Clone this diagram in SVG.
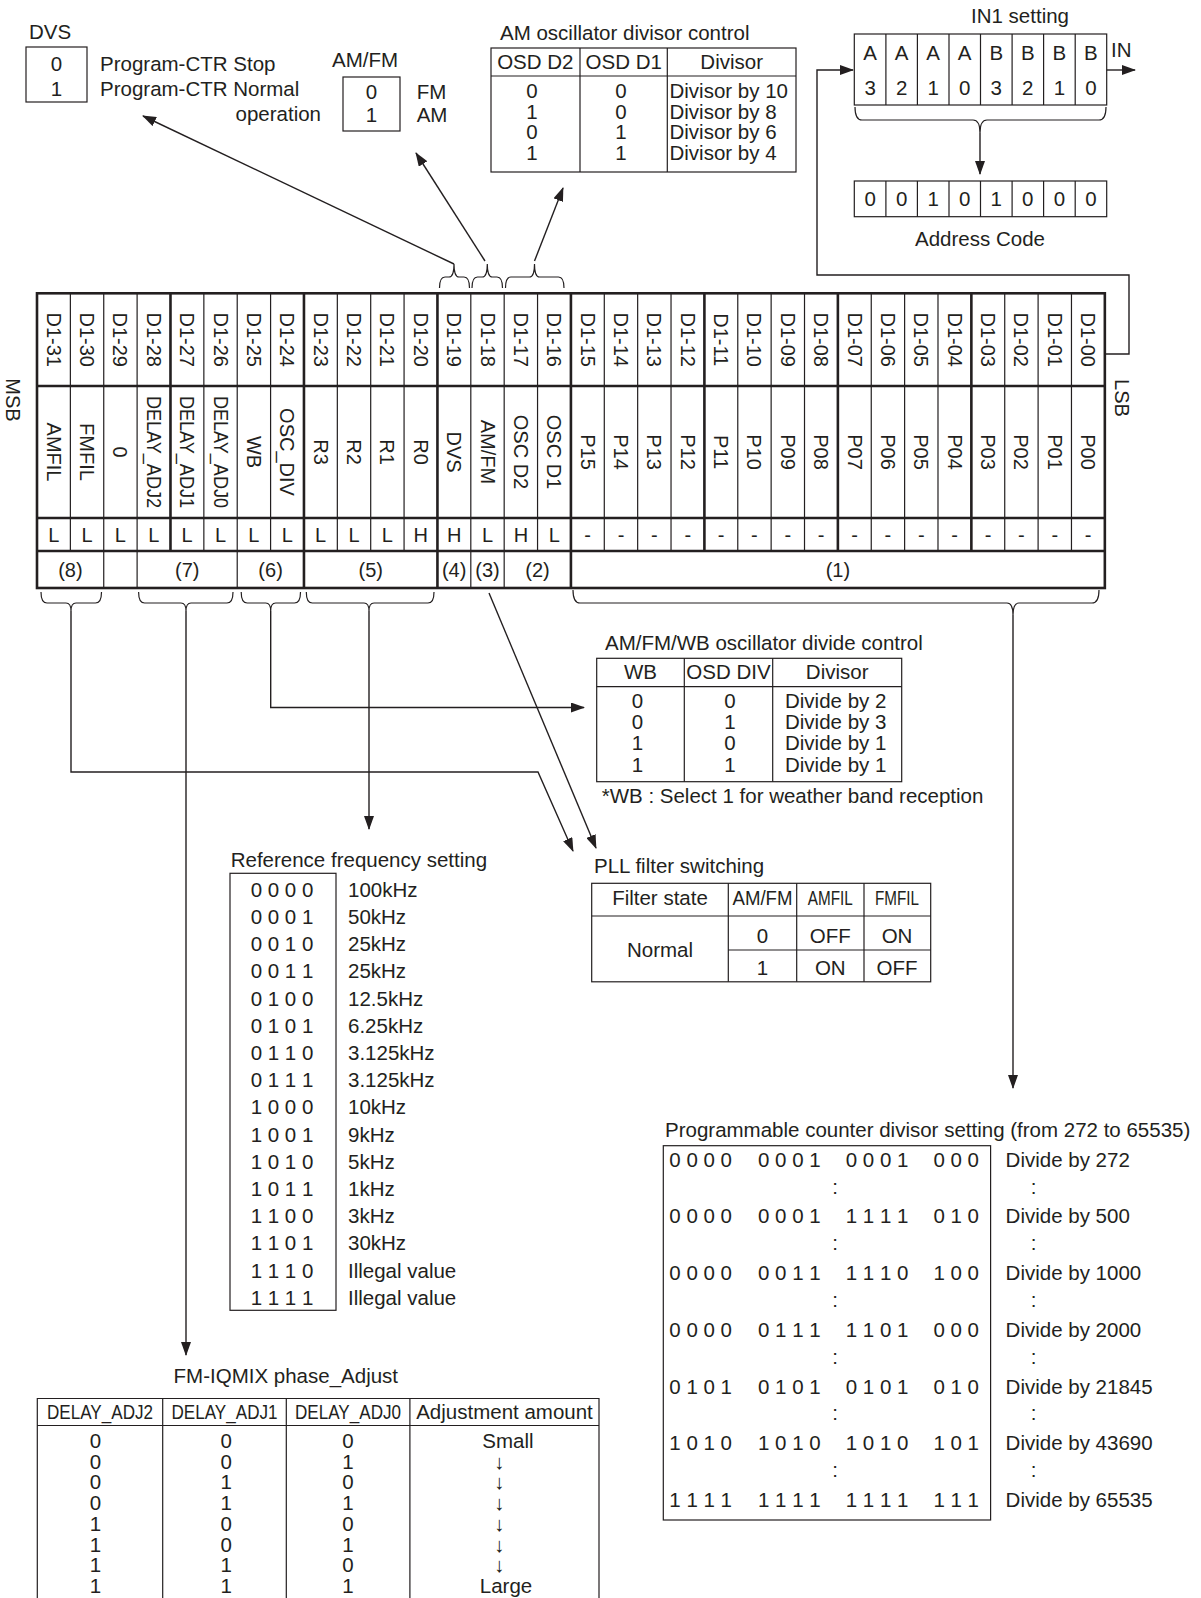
<svg xmlns="http://www.w3.org/2000/svg" width="1201" height="1598" viewBox="0 0 1201 1598">
<defs>
<style>
text { font-family: "Liberation Sans", Arial, sans-serif; font-size: 20.5px; fill: #231f20; }
.m { text-anchor: middle; }
.e { text-anchor: end; }
.s { font-size: 20px; }
.l { stroke: #231f20; stroke-width: 1.2; fill: none; }
.k { stroke: #231f20; stroke-width: 2.6; fill: none; }
.a { stroke: #231f20; stroke-width: 1.4; fill: none; marker-end: url(#ah); }
.b { stroke: #231f20; stroke-width: 1.2; fill: none; }
</style>
<marker id="ah" viewBox="0 0 14 10" refX="13" refY="5" markerWidth="14" markerHeight="10" markerUnits="userSpaceOnUse" orient="auto"><path d="M0,0 L14,5 L0,10 z" fill="#231f20"/></marker>
</defs>
<rect width="1201" height="1598" fill="#fff"/>

<g id="dvs">
<text x="29" y="39">DVS</text>
<rect class="l" x="26" y="47" width="61" height="55"/>
<text class="m" x="56.5" y="71">0</text>
<text class="m" x="56.5" y="96">1</text>
<text x="100" y="71">Program-CTR Stop</text>
<text x="100" y="96">Program-CTR Normal</text>
<text class="e" x="321" y="121">operation</text>
</g>

<g id="amfm">
<text x="332" y="67">AM/FM</text>
<rect class="l" x="343" y="77" width="57" height="54"/>
<text class="m" x="371.5" y="99">0</text>
<text class="m" x="371.5" y="122">1</text>
<text x="416.7" y="99">FM</text>
<text x="416.7" y="122">AM</text>
</g>

<g id="am-osc">
<text x="500" y="40">AM oscillator divisor control</text>
<rect class="l" x="491" y="48" width="305" height="124"/>
<path class="l" d="M491,76 H796 M580,48 V172 M667.3,48 V172"/>
<text class="m" x="535.3" y="69">OSD D2</text>
<text class="m" x="623.7" y="69">OSD D1</text>
<text class="m" x="731.7" y="69">Divisor</text>
<text class="m"><tspan x="532" y="97.7">0</tspan><tspan x="532" y="118.5">1</tspan><tspan x="532" y="139.3">0</tspan><tspan x="532" y="160.3">1</tspan></text>
<text class="m"><tspan x="621" y="97.7">0</tspan><tspan x="621" y="118.5">0</tspan><tspan x="621" y="139.3">1</tspan><tspan x="621" y="160.3">1</tspan></text>
<text><tspan x="669.5" y="97.7">Divisor by 10</tspan><tspan x="669.5" y="118.5">Divisor by 8</tspan><tspan x="669.5" y="139.3">Divisor by 6</tspan><tspan x="669.5" y="160.3">Divisor by 4</tspan></text>
</g>

<g id="in1">
<text x="971" y="23">IN1 setting</text>
<rect class="l" x="854.3" y="34" width="252.4" height="71"/>
<path class="l" d="M885.9,34 V105 M917.4,34 V105 M949,34 V105 M980.5,34 V105 M1012.1,34 V105 M1043.6,34 V105 M1075.2,34 V105"/>
<text class="m" x="870.1" y="60">A</text><text class="m" x="901.6" y="60">A</text><text class="m" x="933.2" y="60">A</text><text class="m" x="964.7" y="60">A</text>
<text class="m" x="996.3" y="60">B</text><text class="m" x="1027.8" y="60">B</text><text class="m" x="1059.4" y="60">B</text><text class="m" x="1090.9" y="60">B</text>
<text class="m" x="870.1" y="95">3</text><text class="m" x="901.6" y="95">2</text><text class="m" x="933.2" y="95">1</text><text class="m" x="964.7" y="95">0</text>
<text class="m" x="996.3" y="95">3</text><text class="m" x="1027.8" y="95">2</text><text class="m" x="1059.4" y="95">1</text><text class="m" x="1090.9" y="95">0</text>
<text x="1111" y="57">IN</text>
</g>

<g id="address">
<rect class="l" x="854.3" y="181" width="252.4" height="35.7"/>
<path class="l" d="M885.9,181 V216.7 M917.4,181 V216.7 M949,181 V216.7 M980.5,181 V216.7 M1012.1,181 V216.7 M1043.6,181 V216.7 M1075.2,181 V216.7"/>
<text class="m" x="870.1" y="206">0</text><text class="m" x="901.6" y="206">0</text><text class="m" x="933.2" y="206">1</text><text class="m" x="964.7" y="206">0</text>
<text class="m" x="996.3" y="206">1</text><text class="m" x="1027.8" y="206">0</text><text class="m" x="1059.4" y="206">0</text><text class="m" x="1090.9" y="206">0</text>
<text class="m" x="980" y="246">Address Code</text>
</g>

<g id="register">
<text class="s m" transform="translate(13,400) rotate(90)" y="7">MSB</text>
<text class="s m" transform="translate(1122,398) rotate(90)" y="7">LSB</text>
<path class="l" d="M70.37,293.3 V551 M103.74,293.3 V588 M137.11,293.3 V588 M203.85,293.3 V551 M237.22,293.3 V588 M270.59,293.3 V551 M337.33,293.3 V551 M370.7,293.3 V551 M404.07,293.3 V551 M470.81,293.3 V588 M504.18,293.3 V588 M537.55,293.3 V551 M604.29,293.3 V551 M637.66,293.3 V551 M671.03,293.3 V551 M737.77,293.3 V551 M771.14,293.3 V551 M804.51,293.3 V551 M871.25,293.3 V551 M904.62,293.3 V551 M937.99,293.3 V551 M1004.73,293.3 V551 M1038.1,293.3 V551 M1071.47,293.3 V551"/>
<path class="k" d="M170.48,293.3 V551 M303.96,293.3 V588 M437.44,293.3 V588 M570.92,293.3 V588 M704.4,293.3 V551 M837.88,293.3 V551 M971.36,293.3 V551 M37,386 H1104.84 M37,518 H1104.84 M37,551 H1104.84"/>
<rect class="k" x="37" y="293.3" width="1067.84" height="294.7"/>
<g>
<text class="s m" transform="translate(53.69,339.7) rotate(90)" y="7">D1-31</text>
<text class="s m" transform="translate(87.06,339.7) rotate(90)" y="7">D1-30</text>
<text class="s m" transform="translate(120.43,339.7) rotate(90)" y="7">D1-29</text>
<text class="s m" transform="translate(153.8,339.7) rotate(90)" y="7">D1-28</text>
<text class="s m" transform="translate(187.17,339.7) rotate(90)" y="7">D1-27</text>
<text class="s m" transform="translate(220.54,339.7) rotate(90)" y="7">D1-26</text>
<text class="s m" transform="translate(253.9,339.7) rotate(90)" y="7">D1-25</text>
<text class="s m" transform="translate(287.28,339.7) rotate(90)" y="7">D1-24</text>
<text class="s m" transform="translate(320.65,339.7) rotate(90)" y="7">D1-23</text>
<text class="s m" transform="translate(354.02,339.7) rotate(90)" y="7">D1-22</text>
<text class="s m" transform="translate(387.39,339.7) rotate(90)" y="7">D1-21</text>
<text class="s m" transform="translate(420.76,339.7) rotate(90)" y="7">D1-20</text>
<text class="s m" transform="translate(454.13,339.7) rotate(90)" y="7">D1-19</text>
<text class="s m" transform="translate(487.5,339.7) rotate(90)" y="7">D1-18</text>
<text class="s m" transform="translate(520.87,339.7) rotate(90)" y="7">D1-17</text>
<text class="s m" transform="translate(554.24,339.7) rotate(90)" y="7">D1-16</text>
<text class="s m" transform="translate(587.6,339.7) rotate(90)" y="7">D1-15</text>
<text class="s m" transform="translate(620.98,339.7) rotate(90)" y="7">D1-14</text>
<text class="s m" transform="translate(654.35,339.7) rotate(90)" y="7">D1-13</text>
<text class="s m" transform="translate(687.72,339.7) rotate(90)" y="7">D1-12</text>
<text class="s m" transform="translate(721.09,339.7) rotate(90)" y="7">D1-11</text>
<text class="s m" transform="translate(754.46,339.7) rotate(90)" y="7">D1-10</text>
<text class="s m" transform="translate(787.83,339.7) rotate(90)" y="7">D1-09</text>
<text class="s m" transform="translate(821.2,339.7) rotate(90)" y="7">D1-08</text>
<text class="s m" transform="translate(854.57,339.7) rotate(90)" y="7">D1-07</text>
<text class="s m" transform="translate(887.94,339.7) rotate(90)" y="7">D1-06</text>
<text class="s m" transform="translate(921.31,339.7) rotate(90)" y="7">D1-05</text>
<text class="s m" transform="translate(954.68,339.7) rotate(90)" y="7">D1-04</text>
<text class="s m" transform="translate(988.05,339.7) rotate(90)" y="7">D1-03</text>
<text class="s m" transform="translate(1021.42,339.7) rotate(90)" y="7">D1-02</text>
<text class="s m" transform="translate(1054.79,339.7) rotate(90)" y="7">D1-01</text>
<text class="s m" transform="translate(1088.16,339.7) rotate(90)" y="7">D1-00</text>

<text class="s m" transform="translate(53.69,452) rotate(90)" y="7">AMFIL</text>
<text class="s m" transform="translate(87.06,452) rotate(90)" y="7">FMFIL</text>
<text class="s m" transform="translate(120.43,452) rotate(90)" y="7">0</text>
<text class="s m" transform="translate(153.8,452) rotate(90)" y="7" textLength="112" lengthAdjust="spacingAndGlyphs">DELAY_ADJ2</text>
<text class="s m" transform="translate(187.17,452) rotate(90)" y="7" textLength="112" lengthAdjust="spacingAndGlyphs">DELAY_ADJ1</text>
<text class="s m" transform="translate(220.54,452) rotate(90)" y="7" textLength="112" lengthAdjust="spacingAndGlyphs">DELAY_ADJ0</text>
<text class="s m" transform="translate(253.9,452) rotate(90)" y="7">WB</text>
<text class="s m" transform="translate(287.28,452) rotate(90)" y="7">OSC_DIV</text>
<text class="s m" transform="translate(320.65,452) rotate(90)" y="7">R3</text>
<text class="s m" transform="translate(354.02,452) rotate(90)" y="7">R2</text>
<text class="s m" transform="translate(387.39,452) rotate(90)" y="7">R1</text>
<text class="s m" transform="translate(420.76,452) rotate(90)" y="7">R0</text>
<text class="s m" transform="translate(454.13,452) rotate(90)" y="7">DVS</text>
<text class="s m" transform="translate(487.5,452) rotate(90)" y="7">AM/FM</text>
<text class="s m" transform="translate(520.87,452) rotate(90)" y="7">OSC D2</text>
<text class="s m" transform="translate(554.24,452) rotate(90)" y="7">OSC D1</text>
<text class="s m" transform="translate(587.6,452) rotate(90)" y="7">P15</text>
<text class="s m" transform="translate(620.98,452) rotate(90)" y="7">P14</text>
<text class="s m" transform="translate(654.35,452) rotate(90)" y="7">P13</text>
<text class="s m" transform="translate(687.72,452) rotate(90)" y="7">P12</text>
<text class="s m" transform="translate(721.09,452) rotate(90)" y="7">P11</text>
<text class="s m" transform="translate(754.46,452) rotate(90)" y="7">P10</text>
<text class="s m" transform="translate(787.83,452) rotate(90)" y="7">P09</text>
<text class="s m" transform="translate(821.2,452) rotate(90)" y="7">P08</text>
<text class="s m" transform="translate(854.57,452) rotate(90)" y="7">P07</text>
<text class="s m" transform="translate(887.94,452) rotate(90)" y="7">P06</text>
<text class="s m" transform="translate(921.31,452) rotate(90)" y="7">P05</text>
<text class="s m" transform="translate(954.68,452) rotate(90)" y="7">P04</text>
<text class="s m" transform="translate(988.05,452) rotate(90)" y="7">P03</text>
<text class="s m" transform="translate(1021.42,452) rotate(90)" y="7">P02</text>
<text class="s m" transform="translate(1054.79,452) rotate(90)" y="7">P01</text>
<text class="s m" transform="translate(1088.16,452) rotate(90)" y="7">P00</text>

<text class="s m" x="53.69" y="541.7">L</text>
<text class="s m" x="87.06" y="541.7">L</text>
<text class="s m" x="120.43" y="541.7">L</text>
<text class="s m" x="153.8" y="541.7">L</text>
<text class="s m" x="187.17" y="541.7">L</text>
<text class="s m" x="220.54" y="541.7">L</text>
<text class="s m" x="253.9" y="541.7">L</text>
<text class="s m" x="287.28" y="541.7">L</text>
<text class="s m" x="320.65" y="541.7">L</text>
<text class="s m" x="354.02" y="541.7">L</text>
<text class="s m" x="387.39" y="541.7">L</text>
<text class="s m" x="420.76" y="541.7">H</text>
<text class="s m" x="454.13" y="541.7">H</text>
<text class="s m" x="487.5" y="541.7">L</text>
<text class="s m" x="520.87" y="541.7">H</text>
<text class="s m" x="554.24" y="541.7">L</text>
<text class="s m" x="587.6" y="541.7">-</text>
<text class="s m" x="620.98" y="541.7">-</text>
<text class="s m" x="654.35" y="541.7">-</text>
<text class="s m" x="687.72" y="541.7">-</text>
<text class="s m" x="721.09" y="541.7">-</text>
<text class="s m" x="754.46" y="541.7">-</text>
<text class="s m" x="787.83" y="541.7">-</text>
<text class="s m" x="821.2" y="541.7">-</text>
<text class="s m" x="854.57" y="541.7">-</text>
<text class="s m" x="887.94" y="541.7">-</text>
<text class="s m" x="921.31" y="541.7">-</text>
<text class="s m" x="954.68" y="541.7">-</text>
<text class="s m" x="988.05" y="541.7">-</text>
<text class="s m" x="1021.42" y="541.7">-</text>
<text class="s m" x="1054.79" y="541.7">-</text>
<text class="s m" x="1088.16" y="541.7">-</text>

<text class="s m" x="70.4" y="577">(8)</text>
<text class="s m" x="187.2" y="577">(7)</text>
<text class="s m" x="270.6" y="577">(6)</text>
<text class="s m" x="370.7" y="577">(5)</text>
<text class="s m" x="454.13" y="577">(4)</text>
<text class="s m" x="487.5" y="577">(3)</text>
<text class="s m" x="537.55" y="577">(2)</text>
<text class="s m" x="837.9" y="577">(1)</text>
</g>
</g>

<g id="wb-table">
<text x="605" y="650">AM/FM/WB oscillator divide control</text>
<rect class="l" x="596.7" y="658.3" width="305" height="123.4"/>
<path class="l" d="M596.7,686.7 H901.7 M684.3,658.3 V781.7 M772.7,658.3 V781.7"/>
<text class="m" x="640.5" y="679.3">WB</text>
<text class="m" x="728.5" y="679.3">OSD DIV</text>
<text class="m" x="837.2" y="679.3">Divisor</text>
<text class="m"><tspan x="637.5" y="708.3">0</tspan><tspan x="637.5" y="729.3">0</tspan><tspan x="637.5" y="750.3">1</tspan><tspan x="637.5" y="771.5">1</tspan></text>
<text class="m"><tspan x="730" y="708.3">0</tspan><tspan x="730" y="729.3">1</tspan><tspan x="730" y="750.3">0</tspan><tspan x="730" y="771.5">1</tspan></text>
<text><tspan x="785" y="708.3">Divide by 2</tspan><tspan x="785" y="729.3">Divide by 3</tspan><tspan x="785" y="750.3">Divide by 1</tspan><tspan x="785" y="771.5">Divide by 1</tspan></text>
<text x="601.7" y="802.7">*WB : Select 1 for weather band reception</text>
</g>

<g id="pll-table">
<text x="594" y="873">PLL filter switching</text>
<rect class="l" x="591.7" y="883.3" width="339" height="98.5"/>
<path class="l" d="M591.7,916 H930.7 M728.3,950 H930.7 M728.3,883.3 V981.8 M796.7,883.3 V981.8 M864,883.3 V981.8"/>
<text class="m" x="660" y="905">Filter state</text>
<text class="m" x="762.5" y="905" textLength="60" lengthAdjust="spacingAndGlyphs">AM/FM</text>
<text class="m" x="830.3" y="905" textLength="45" lengthAdjust="spacingAndGlyphs">AMFIL</text>
<text class="m" x="897" y="905" textLength="44" lengthAdjust="spacingAndGlyphs">FMFIL</text>
<text class="m" x="660" y="957">Normal</text>
<text class="m" x="762.5" y="942.7">0</text><text class="m" x="830.3" y="942.7">OFF</text><text class="m" x="897" y="942.7">ON</text>
<text class="m" x="762.5" y="975">1</text><text class="m" x="830.3" y="975">ON</text><text class="m" x="897" y="975">OFF</text>
</g>

<g id="ref-freq">
<text x="230.7" y="867">Reference frequency setting</text>
<rect class="l" x="230" y="873.3" width="106" height="437"/>
<text class="m" x="282" y="896.7">0 0 0 0</text>
<text class="m" x="282" y="923.9">0 0 0 1</text>
<text class="m" x="282" y="951.1">0 0 1 0</text>
<text class="m" x="282" y="978.3">0 0 1 1</text>
<text class="m" x="282" y="1005.5">0 1 0 0</text>
<text class="m" x="282" y="1032.7">0 1 0 1</text>
<text class="m" x="282" y="1059.9">0 1 1 0</text>
<text class="m" x="282" y="1087.1">0 1 1 1</text>
<text class="m" x="282" y="1114.3">1 0 0 0</text>
<text class="m" x="282" y="1141.5">1 0 0 1</text>
<text class="m" x="282" y="1168.7">1 0 1 0</text>
<text class="m" x="282" y="1195.9">1 0 1 1</text>
<text class="m" x="282" y="1223.1">1 1 0 0</text>
<text class="m" x="282" y="1250.3">1 1 0 1</text>
<text class="m" x="282" y="1277.5">1 1 1 0</text>
<text class="m" x="282" y="1304.7">1 1 1 1</text>
<text x="348" y="896.7">100kHz</text>
<text x="348" y="923.9">50kHz</text>
<text x="348" y="951.1">25kHz</text>
<text x="348" y="978.3">25kHz</text>
<text x="348" y="1005.5">12.5kHz</text>
<text x="348" y="1032.7">6.25kHz</text>
<text x="348" y="1059.9">3.125kHz</text>
<text x="348" y="1087.1">3.125kHz</text>
<text x="348" y="1114.3">10kHz</text>
<text x="348" y="1141.5">9kHz</text>
<text x="348" y="1168.7">5kHz</text>
<text x="348" y="1195.9">1kHz</text>
<text x="348" y="1223.1">3kHz</text>
<text x="348" y="1250.3">30kHz</text>
<text x="348" y="1277.5">Illegal value</text>
<text x="348" y="1304.7">Illegal value</text>
</g>

<g id="prog-counter">
<text x="665" y="1136.7">Programmable counter divisor setting (from 272 to 65535)</text>
<rect class="l" x="663.3" y="1145.7" width="327.3" height="374.3"/>
<text x="669.3" y="1166.7">0 0 0 0</text><text x="758" y="1166.7">0 0 0 1</text><text x="845.7" y="1166.7">0 0 0 1</text><text x="933.4" y="1166.7">0 0 0</text><text x="1005.6" y="1166.7">Divide by 272</text>
<text x="669.3" y="1223.4">0 0 0 0</text><text x="758" y="1223.4">0 0 0 1</text><text x="845.7" y="1223.4">1 1 1 1</text><text x="933.4" y="1223.4">0 1 0</text><text x="1005.6" y="1223.4">Divide by 500</text>
<text x="669.3" y="1280.1">0 0 0 0</text><text x="758" y="1280.1">0 0 1 1</text><text x="845.7" y="1280.1">1 1 1 0</text><text x="933.4" y="1280.1">1 0 0</text><text x="1005.6" y="1280.1">Divide by 1000</text>
<text x="669.3" y="1336.8">0 0 0 0</text><text x="758" y="1336.8">0 1 1 1</text><text x="845.7" y="1336.8">1 1 0 1</text><text x="933.4" y="1336.8">0 0 0</text><text x="1005.6" y="1336.8">Divide by 2000</text>
<text x="669.3" y="1393.5">0 1 0 1</text><text x="758" y="1393.5">0 1 0 1</text><text x="845.7" y="1393.5">0 1 0 1</text><text x="933.4" y="1393.5">0 1 0</text><text x="1005.6" y="1393.5">Divide by 21845</text>
<text x="669.3" y="1450.2">1 0 1 0</text><text x="758" y="1450.2">1 0 1 0</text><text x="845.7" y="1450.2">1 0 1 0</text><text x="933.4" y="1450.2">1 0 1</text><text x="1005.6" y="1450.2">Divide by 43690</text>
<text x="669.3" y="1506.9">1 1 1 1</text><text x="758" y="1506.9">1 1 1 1</text><text x="845.7" y="1506.9">1 1 1 1</text><text x="933.4" y="1506.9">1 1 1</text><text x="1005.6" y="1506.9">Divide by 65535</text>
<text class="m" x="835" y="1193.5">:</text><text class="m" x="1033.6" y="1193.5">:</text>
<text class="m" x="835" y="1250.2">:</text><text class="m" x="1033.6" y="1250.2">:</text>
<text class="m" x="835" y="1306.9">:</text><text class="m" x="1033.6" y="1306.9">:</text>
<text class="m" x="835" y="1363.6">:</text><text class="m" x="1033.6" y="1363.6">:</text>
<text class="m" x="835" y="1420.3">:</text><text class="m" x="1033.6" y="1420.3">:</text>
<text class="m" x="835" y="1477">:</text><text class="m" x="1033.6" y="1477">:</text>
</g>

<g id="fm-iqmix">
<text x="173.6" y="1383.3">FM-IQMIX phase_Adjust</text>
<path class="l" d="M37.3,1598 V1398.5 H599 V1598 M37.3,1425.5 H599 M162.7,1398.5 V1598 M286.3,1398.5 V1598 M409.9,1398.5 V1598"/>
<text class="m" x="100" y="1419" textLength="106" lengthAdjust="spacingAndGlyphs">DELAY_ADJ2</text>
<text class="m" x="224.5" y="1419" textLength="106" lengthAdjust="spacingAndGlyphs">DELAY_ADJ1</text>
<text class="m" x="348" y="1419" textLength="106" lengthAdjust="spacingAndGlyphs">DELAY_ADJ0</text>
<text class="m" x="504.5" y="1419">Adjustment amount</text>
<text class="m"><tspan x="95.4" y="1448">0</tspan><tspan x="95.4" y="1468.7">0</tspan><tspan x="95.4" y="1489.4">0</tspan><tspan x="95.4" y="1510.1">0</tspan><tspan x="95.4" y="1530.8">1</tspan><tspan x="95.4" y="1551.5">1</tspan><tspan x="95.4" y="1572.2">1</tspan><tspan x="95.4" y="1592.9">1</tspan></text>
<text class="m"><tspan x="226.3" y="1448">0</tspan><tspan x="226.3" y="1468.7">0</tspan><tspan x="226.3" y="1489.4">1</tspan><tspan x="226.3" y="1510.1">1</tspan><tspan x="226.3" y="1530.8">0</tspan><tspan x="226.3" y="1551.5">0</tspan><tspan x="226.3" y="1572.2">1</tspan><tspan x="226.3" y="1592.9">1</tspan></text>
<text class="m"><tspan x="348" y="1448">0</tspan><tspan x="348" y="1468.7">1</tspan><tspan x="348" y="1489.4">0</tspan><tspan x="348" y="1510.1">1</tspan><tspan x="348" y="1530.8">0</tspan><tspan x="348" y="1551.5">1</tspan><tspan x="348" y="1572.2">0</tspan><tspan x="348" y="1592.9">1</tspan></text>
<text class="m"><tspan x="508" y="1448">Small</tspan><tspan x="499" y="1468.7">↓</tspan><tspan x="499" y="1489.4">↓</tspan><tspan x="499" y="1510.1">↓</tspan><tspan x="499" y="1530.8">↓</tspan><tspan x="499" y="1551.5">↓</tspan><tspan x="499" y="1572.2">↓</tspan><tspan x="506" y="1592.9">Large</tspan></text>
</g>

<g id="connectors">
<path class="b" d="M439.5,288 Q439.5,277 445,277 L449,277 Q454,277 454,264 Q454,277 459,277 L464,277 Q469.5,277 469.5,288"/>
<path class="b" d="M472,288 Q472,277 477.5,277 L482.3,277 Q487.3,277 487.3,264 Q487.3,277 492.3,277 L497,277 Q502.5,277 502.5,288"/>
<path class="b" d="M505.5,288 Q505.5,277 511,277 L529.5,277 Q534.5,277 534.5,264 Q534.5,277 539.5,277 L558.5,277 Q564,277 564,288"/>
<path class="b" d="M855,107 Q855,120 862,120 L973,120 Q980,120 980,133 Q980,120 987,120 L1099,120 Q1106,120 1106,107"/>
<path class="b" d="M41,592 Q41,603 47,603 L66,603 Q71,603 71,611 Q71,603 76,603 L95.5,603 Q101.5,603 101.5,592"/>
<path class="b" d="M138.6,592 Q138.6,603 144.6,603 L181,603 Q186,603 186,611 Q186,603 191,603 L227,603 Q233,603 233,592"/>
<path class="b" d="M241.2,592 Q241.2,603 247.2,603 L265.7,603 Q270.7,603 270.7,611 Q270.7,603 275.7,603 L294.5,603 Q300.5,603 300.5,592"/>
<path class="b" d="M306.3,592 Q306.3,603 312.3,603 L364,603 Q369,603 369,611 Q369,603 374,603 L428,603 Q434,603 434,592"/>
<path class="b" d="M573,590 Q573,603 580,603 L1007,603 Q1013,603 1013,615 Q1013,603 1019,603 L1092,603 Q1099,603 1099,590"/>
<path class="a" d="M454,264 L143,116"/>
<path class="a" d="M485,261 L416,153"/>
<path class="a" d="M534.5,261 L563,188"/>
<path class="a" d="M980,133 V174"/>
<path class="a" d="M1104.84,354 H1129 V275 H817 V70 H853"/>
<path class="a" d="M1106.7,70 H1135"/>
<path class="a" d="M71,611 V772 H538 L573,851"/>
<path class="a" d="M186,611 V1355"/>
<path class="a" d="M270.7,611 V707.5 H584"/>
<path class="a" d="M369,611 V829"/>
<path class="a" d="M489,593 L596,848"/>
<path class="a" d="M1013,615 V1088"/>
</g>
</svg>
